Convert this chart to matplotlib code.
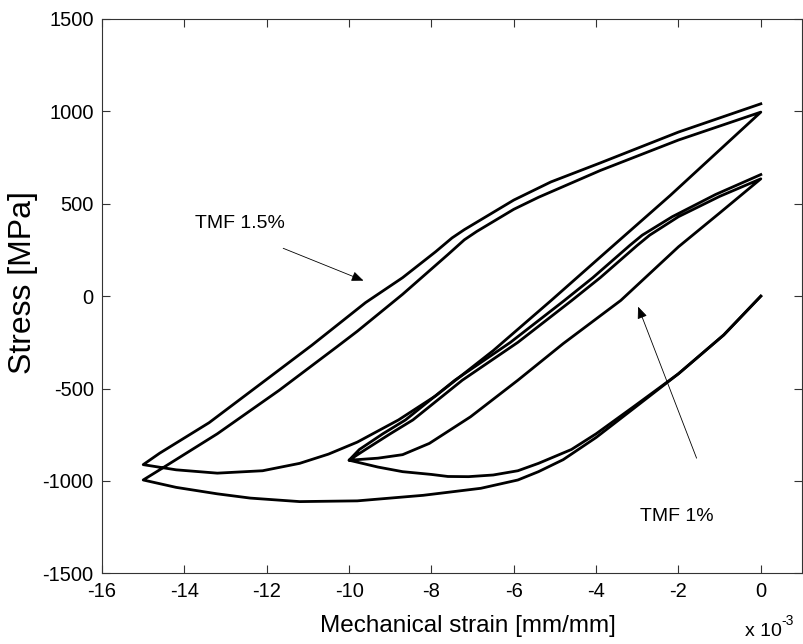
import matplotlib
matplotlib.use('Agg')
import numpy as np
import matplotlib.pyplot as plt

plt.rcParams['font.family'] = ['Liberation Sans', 'DejaVu Sans']
plt.rcParams['axes.unicode_minus'] = False

# strain in units of 1e-3 mm/mm, stress in MPa

# TMF 1.5% test
# cycle 1, compression from zero
t15_down1_x = [0, -0.9, -2.0, -3.1, -4.0, -4.8, -5.4, -5.9, -6.8, -8.2, -9.8, -11.2, -12.4, -13.2, -14.2, -15.0]
t15_down1_y = [0, -210, -420, -610, -765, -885, -950, -995, -1040, -1078, -1108, -1112, -1093, -1070, -1035, -995]
# cycle 1, back to zero strain
t15_up1_x = [-15.0, -14.6, -13.2, -11.7, -10.3, -9.8, -8.7, -7.6, -7.2, -6.9, -6.0, -5.4, -3.9, -2.0, 0]
t15_up1_y = [-995, -940, -745, -510, -275, -190, 10, 225, 305, 350, 470, 535, 680, 845, 996]
# cycle 2, compression
t15_down2_x = [0, -2.2, -3.8, -5.1, -6.5, -7.9, -8.8, -9.8, -10.5, -11.2, -12.1, -13.2, -14.2, -15.0]
t15_down2_y = [996, 545, 231, -25, -295, -540, -670, -790, -855, -905, -945, -958, -940, -912]
# cycle 2, back to zero strain
t15_up2_x = [-15.0, -14.6, -13.4, -12.0, -10.9, -9.6, -8.7, -7.9, -7.5, -7.2, -6.0, -5.1, -3.9, -2.0, 0]
t15_up2_y = [-912, -850, -685, -450, -265, -35, 100, 240, 315, 360, 520, 618, 721, 888, 1041]

# TMF 1% test
t10_down1_x = [0, -0.9, -2.0, -3.1, -4.0, -4.6, -5.4, -5.9, -6.5, -7.1, -7.6, -8.0, -8.7, -9.3, -10.0]
t10_down1_y = [0, -210, -420, -600, -745, -830, -905, -945, -968, -977, -976, -965, -950, -925, -888]
t10_up1_x = [-10.0, -9.6, -9.0, -8.45, -7.25, -5.9, -4.6, -3.9, -3.0, -2.7, -2.0, -1.0, 0]
t10_up1_y = [-888, -830, -745, -670, -455, -250, -25, 100, 275, 330, 430, 540, 635]
t10_down2_x = [0, -1.0, -2.0, -3.4, -4.8, -5.9, -7.05, -8.05, -8.7, -9.3, -10.0]
t10_down2_y = [635, 450, 267, -23, -257, -455, -653, -797, -858, -877, -888]
t10_up2_x = [-10.0, -9.75, -9.18, -8.63, -7.43, -6.08, -4.78, -4.08, -3.18, -2.88, -2.15, -1.1, 0]
t10_up2_y = [-888, -830, -745, -670, -455, -250, -25, 100, 275, 330, 430, 550, 658]

x_ticks = [-16, -14, -12, -10, -8, -6, -4, -2, 0]
y_ticks = [-1500, -1000, -500, 0, 500, 1000, 1500]

tmf15_x = t15_down1_x + t15_up1_x[1:] + t15_down2_x[1:] + t15_up2_x[1:]
tmf15_y = t15_down1_y + t15_up1_y[1:] + t15_down2_y[1:] + t15_up2_y[1:]
tmf10_x = t10_down1_x + t10_up1_x[1:] + t10_down2_x[1:] + t10_up2_x[1:]
tmf10_y = t10_down1_y + t10_up1_y[1:] + t10_down2_y[1:] + t10_up2_y[1:]

fig = plt.figure(figsize=(8.04, 6.44), dpi=100)
ax = fig.add_axes([0.1269, 0.1098, 0.8706, 0.8607])

ax.plot(tmf15_x, tmf15_y, color='k', lw=2.0, solid_joinstyle='round')
ax.plot(tmf10_x, tmf10_y, color='k', lw=2.0, solid_joinstyle='round')

ax.set_xlim(-16, 1)
ax.set_ylim(-1500, 1500)
ax.set_xticks(x_ticks)
ax.set_yticks(y_ticks)
ax.tick_params(direction='in', length=6, width=0.8, top=True, right=True,
               labelsize=14.5, color='#333333', pad=6)
for sp in ax.spines.values():
    sp.set_linewidth(0.8)
    sp.set_color('#333333')

ax.set_xlabel('Mechanical strain [mm/mm]', fontsize=17.5)
ax.xaxis.set_label_coords(0.523, -0.075)
ax.set_ylabel('Stress [MPa]', fontsize=23)
ax.yaxis.set_label_coords(-0.092, 0.524)

# exponent label under the right end of the x axis
fig.text(745 / 804, 1 - 636 / 644, 'x 10', fontsize=14, va='baseline', ha='left')
fig.text(781 / 804, 1 - 625 / 644, '-3', fontsize=10, va='baseline', ha='left')

ax.text(-12.65, 393, 'TMF 1.5%', ha='center', va='center', fontsize=14)
ax.annotate('', xy=(-9.65, 84), xytext=(-11.6, 259),
            arrowprops=dict(arrowstyle='-|>,head_length=0.6,head_width=0.25', color='k',
                            lw=0.6, mutation_scale=12, shrinkA=0, shrinkB=0))
ax.text(-2.05, -1195, 'TMF 1%', ha='center', va='center', fontsize=14)
ax.annotate('', xy=(-2.98, -57), xytext=(-1.56, -877),
            arrowprops=dict(arrowstyle='-|>,head_length=0.6,head_width=0.25', color='k',
                            lw=0.6, mutation_scale=12, shrinkA=0, shrinkB=0))

fig.savefig('out.png', dpi=100)
